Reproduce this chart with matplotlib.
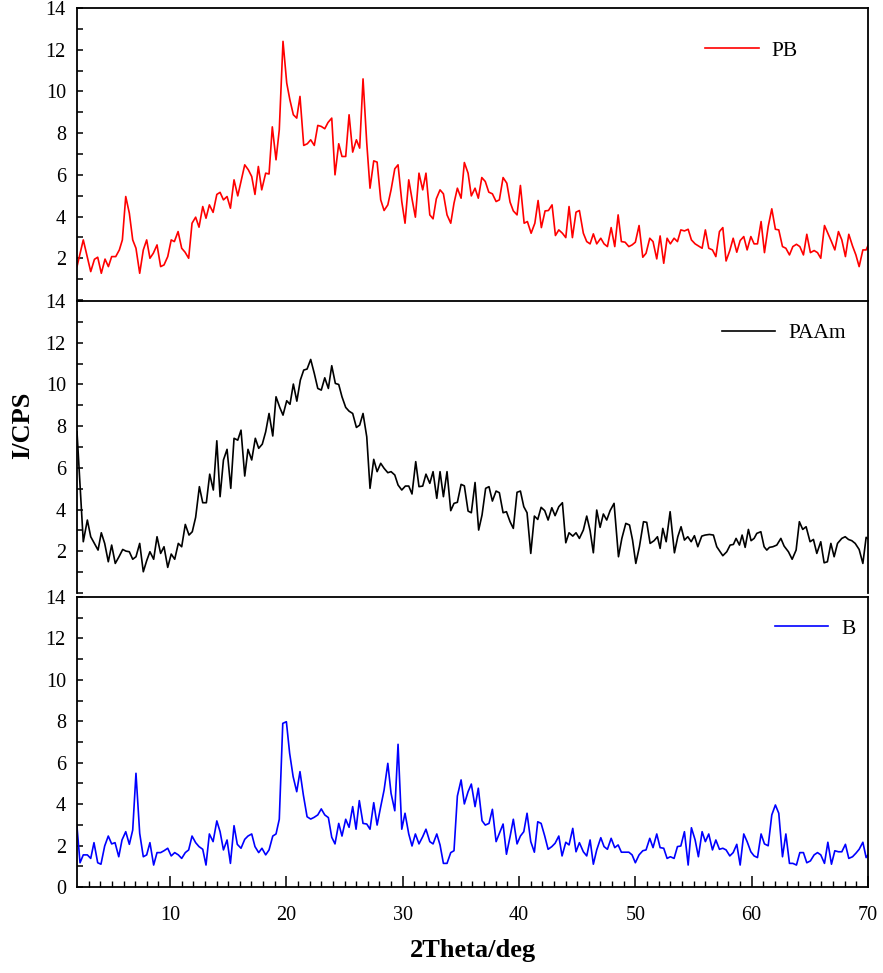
import numpy as np
import matplotlib
matplotlib.use("Agg")
import matplotlib.pyplot as plt
from matplotlib.ticker import MultipleLocator, FixedLocator

plt.rcParams['font.family'] = ['Liberation Serif', 'DejaVu Serif']

# PB (red)
pb_x = [2.0, 2.54, 3.18, 3.5, 3.78, 4.09, 4.41, 4.7, 4.98, 5.33, 5.64, 5.9, 6.19, 6.5, 6.79,
        7.07, 7.39, 7.7, 7.99, 8.27, 8.56, 8.88, 9.19, 9.48, 9.8, 10.1, 10.37, 10.69, 11.0,
        11.29, 11.6, 11.89, 12.2, 12.49, 12.81, 13.09, 13.38, 13.7, 14.02, 14.3, 14.59, 14.9,
        15.19, 15.5, 15.82, 16.13, 16.42, 16.73, 17.02, 17.3, 17.59, 17.88, 18.22, 18.51,
        18.79, 19.11, 19.39, 19.71, 20.03, 20.3, 20.6, 20.89, 21.17, 21.49, 21.8, 22.09, 22.4,
        22.7, 23.0, 23.3, 23.58, 23.9, 24.18, 24.5, 24.78, 25.1, 25.39, 25.7, 26.02, 26.3,
        26.59, 26.91, 27.19, 27.51, 27.8, 28.11, 28.4, 28.72, 29.0, 29.32, 29.6, 29.92, 30.2,
        30.52, 30.8, 31.09, 31.4, 31.72, 32.0, 32.33, 32.61, 32.89, 33.21, 33.5, 33.81, 34.13,
        34.41, 34.7, 35.02, 35.3, 35.62, 35.9, 36.22, 36.5, 36.8, 37.1, 37.4, 37.71, 38.03,
        38.31, 38.63, 38.95, 39.23, 39.51, 39.83, 40.12, 40.44, 40.72, 41.04, 41.36, 41.64,
        41.92, 42.24, 42.53, 42.84, 43.13, 43.42, 43.73, 44.02, 44.3, 44.59, 44.9, 45.19,
        45.53, 45.82, 46.11, 46.39, 46.68, 47.03, 47.31, 47.6, 47.92, 48.23, 48.52, 48.8,
        49.12, 49.44, 49.72, 50.0, 50.32, 50.64, 50.92, 51.24, 51.52, 51.84, 52.13, 52.44,
        52.73, 53.01, 53.33, 53.62, 53.91, 54.22, 54.54, 54.82, 55.14, 55.42, 55.74, 56.02,
        56.31, 56.63, 56.92, 57.23, 57.52, 57.8, 58.12, 58.41, 58.72, 59.01, 59.32, 59.61,
        59.93, 60.21, 60.5, 60.81, 61.1, 61.42, 61.73, 62.04, 62.33, 62.65, 62.94, 63.25,
        63.54, 63.85, 64.14, 64.45, 64.74, 65.05, 65.37, 65.66, 65.94, 66.26, 66.55, 66.86,
        67.15, 67.46, 67.75, 68.06, 68.35, 68.67, 68.96, 69.24, 69.56, 69.84, 70.0]
pb_i = [1.6, 2.88, 1.36, 1.95, 2.05, 1.28, 1.96, 1.6, 2.08, 2.08, 2.4, 2.88, 4.96, 4.16, 2.88,
        2.48, 1.28, 2.4, 2.88, 2.0, 2.24, 2.64, 1.6, 1.68, 2.08, 2.88, 2.8, 3.28, 2.48,
        2.29, 2.0, 3.68, 3.97, 3.49, 4.48, 3.92, 4.56, 4.2, 5.06, 5.16, 4.8, 4.96,
        4.4, 5.76, 4.99, 5.76, 6.48, 6.24, 5.92, 5.06, 6.4, 5.28, 6.08, 6.04,
        8.3, 6.72, 8.16, 12.4, 10.4, 9.6, 8.88, 8.72, 9.76, 7.41, 7.49, 7.68, 7.41,
        8.37, 8.32, 8.21, 8.51, 8.72, 6.0, 7.49, 6.88, 6.88, 8.88, 7.09, 7.68, 7.28,
        10.6, 7.52, 5.36, 6.67, 6.61, 4.8, 4.29, 4.56, 5.28, 6.29, 6.48, 4.72, 3.68,
        5.76, 4.85, 3.97, 6.08, 5.28, 6.08, 4.08, 3.89, 4.85, 5.28, 5.09, 4.08, 3.68,
        4.64, 5.36, 4.88, 6.59, 6.08, 4.99, 5.36, 4.88, 5.87, 5.68, 5.17, 5.09, 4.72,
        4.8, 5.87, 5.6, 4.69, 4.27, 4.08, 5.49, 3.68, 3.76, 3.2, 3.68, 4.77,
        3.47, 4.27, 4.29, 4.56, 3.09, 3.36, 3.2, 2.99, 4.48, 2.99, 4.21, 4.29,
        3.2, 2.8, 2.69, 3.17, 2.69, 2.96, 2.69, 2.56, 3.47, 2.56, 4.08, 2.8,
        2.77, 2.56, 2.64, 2.77, 3.57, 2.05, 2.24, 2.96, 2.8, 1.97, 3.07, 1.76,
        2.96, 2.69, 2.96, 2.8, 3.36, 3.31, 3.39, 2.88, 2.69, 2.59, 2.48, 3.36,
        2.48, 2.4, 2.08, 3.28, 3.47, 1.87, 2.37, 2.96, 2.29, 2.85, 3.04, 2.4,
        3.04, 2.69, 2.69, 3.76, 2.27, 3.52, 4.37, 3.39, 3.36, 2.56, 2.48, 2.16,
        2.56, 2.67, 2.56, 2.16, 3.15, 2.27, 2.37, 2.27, 2.0, 3.57, 3.2, 2.8,
        2.4, 3.28, 2.88, 2.08, 3.15, 2.59, 2.16, 1.6, 2.4, 2.4, 2.61]

# PAAm (black)
paam_x = [2.0, 2.54, 2.89, 3.18, 3.5, 3.81, 4.09, 4.38, 4.69, 4.98, 5.29, 5.61, 5.93, 6.21,
          6.5, 6.79, 7.07, 7.39, 7.7, 7.99, 8.27, 8.59, 8.88, 9.19, 9.48, 9.8, 10.1, 10.4,
          10.71, 11.0, 11.31, 11.63, 11.91, 12.2, 12.52, 12.81, 13.12, 13.41, 13.72, 14.02,
          14.3, 14.59, 14.9, 15.22, 15.5, 15.82, 16.1, 16.42, 16.7, 17.02, 17.33, 17.62,
          17.93, 18.22, 18.51, 18.83, 19.11, 19.43, 19.71, 20.03, 20.31, 20.6, 20.9, 21.2,
          21.49, 21.78, 22.09, 22.4, 22.7, 23.0, 23.3, 23.61, 23.9, 24.21, 24.5, 24.78, 25.1,
          25.39, 25.7, 26.02, 26.3, 26.59, 26.91, 27.19, 27.51, 27.8, 28.11, 28.4, 28.72, 29.0,
          29.32, 29.6, 29.92, 30.23, 30.52, 30.8, 31.12, 31.4, 31.72, 32.0, 32.33, 32.61,
          32.93, 33.21, 33.5, 33.81, 34.13, 34.41, 34.7, 35.02, 35.3, 35.62, 35.9, 36.22,
          36.53, 36.82, 37.13, 37.42, 37.71, 38.03, 38.31, 38.63, 38.92, 39.23, 39.51, 39.83,
          40.12, 40.41, 40.69, 41.01, 41.32, 41.61, 41.9, 42.21, 42.5, 42.82, 43.1, 43.42,
          43.73, 44.02, 44.3, 44.62, 44.9, 45.19, 45.53, 45.82, 46.11, 46.39, 46.68, 46.97,
          47.25, 47.54, 47.83, 48.17, 48.55, 48.84, 49.18, 49.5, 49.76, 50.04, 50.35, 50.7,
          50.98, 51.27, 51.61, 51.9, 52.13, 52.36, 52.65, 52.99, 53.36, 53.65, 53.93, 54.22,
          54.51, 54.8, 55.08, 55.37, 55.71, 56.0, 56.37, 56.71, 57.0, 57.52, 57.86, 58.15,
          58.43, 58.66, 58.95, 59.18, 59.44, 59.72, 59.95, 60.21, 60.44, 60.79, 61.07, 61.3,
          61.53, 61.82, 62.16, 62.51, 62.79, 63.16, 63.48, 63.82, 64.1, 64.39, 64.68, 65.02,
          65.31, 65.6, 65.94, 66.23, 66.51, 66.81, 67.09, 67.38, 67.75, 68.04, 68.32, 68.61,
          68.9, 69.24, 69.56, 69.84, 70.0]
paam_i = [7.73, 2.46, 3.5, 2.7, 2.38, 2.06, 2.89, 2.38, 1.5, 2.3, 1.42, 1.74, 2.09, 2.01,
          1.98, 1.62, 1.74, 2.38, 1.02, 1.55, 1.98, 1.62, 2.7, 1.9, 2.22, 1.23, 1.87, 1.62,
          2.38, 2.22, 3.29, 2.78, 2.94, 3.63, 5.1, 4.33, 4.33, 5.7, 4.94, 7.3,
          4.62, 6.38, 6.89, 5.02, 7.42, 7.33, 7.81, 5.61, 6.89, 6.38, 7.42, 6.94,
          7.14, 7.73, 8.61, 7.53, 9.41, 8.9, 8.53, 9.22, 9.05, 10.02, 9.2, 10.21,
          10.69, 10.74, 11.2, 10.53, 9.81, 9.73, 10.32, 9.81, 10.9, 10.05, 10.0, 9.41, 8.9,
          8.72, 8.61, 7.94, 8.05, 8.61, 7.49, 5.02, 6.41, 5.82, 6.22, 5.98, 5.77, 5.82,
          5.66, 5.18, 4.94, 5.13, 5.13, 4.75, 6.3, 5.1, 5.13, 5.7, 5.26, 5.82,
          4.54, 5.82, 4.62, 5.82, 3.95, 4.3, 4.35, 5.21, 5.14, 3.93, 3.85, 5.3,
          3.02, 3.74, 5.02, 5.1, 4.41, 4.89, 4.81, 3.85, 3.9, 3.42, 3.1, 4.83,
          4.89, 4.14, 3.85, 1.9, 3.69, 3.53, 4.11, 3.95, 3.5, 4.09, 3.71, 4.14,
          4.33, 2.41, 2.89, 2.73, 2.89, 2.62, 3.02, 3.69, 2.99, 1.93, 3.98, 3.15,
          3.79, 3.5, 3.95, 4.3, 1.74, 2.62, 3.34, 3.26, 2.54, 1.42, 2.22, 3.42,
          3.39, 2.38, 2.51, 2.7, 2.14, 3.1, 2.46, 3.9, 1.93, 2.7, 3.18, 2.54,
          2.7, 2.46, 2.75, 2.22, 2.73, 2.78, 2.81, 2.78, 2.22, 1.79, 1.98, 2.3,
          2.33, 2.62, 2.3, 2.78, 2.19, 3.05, 2.51, 2.62, 2.86, 2.94, 2.22, 2.06,
          2.19, 2.22, 2.3, 2.62, 2.25, 1.98, 1.62, 2.06, 3.42, 3.05, 3.18, 2.46,
          2.57, 1.9, 2.46, 1.45, 1.5, 2.38, 1.74, 2.38, 2.62, 2.7, 2.57, 2.51,
          2.38, 2.09, 1.42, 2.67, 2.6]

# B (blue)
b_x = [2.0, 2.26, 2.54, 2.89, 3.18, 3.46, 3.78, 4.06, 4.38, 4.69, 4.98, 5.27, 5.59, 5.87,
       6.19, 6.5, 6.79, 7.07, 7.39, 7.7, 7.99, 8.27, 8.59, 8.88, 9.19, 9.48, 9.8, 10.1,
       10.4, 10.71, 11.0, 11.31, 11.6, 11.89, 12.2, 12.49, 12.81, 13.09, 13.38, 13.7, 14.02,
       14.3, 14.59, 14.9, 15.19, 15.5, 15.78, 16.1, 16.42, 16.7, 17.02, 17.3, 17.62, 17.9,
       18.22, 18.51, 18.83, 19.11, 19.39, 19.69, 20.0, 20.28, 20.58, 20.89, 21.17, 21.46,
       21.78, 22.09, 22.38, 22.7, 23.0, 23.3, 23.61, 23.9, 24.18, 24.5, 24.78, 25.1, 25.39,
       25.7, 25.99, 26.27, 26.59, 26.91, 27.19, 27.51, 27.8, 28.11, 28.4, 28.72, 29.0, 29.32,
       29.6, 29.92, 30.2, 30.52, 30.8, 31.09, 31.4, 31.72, 32.0, 32.33, 32.61, 32.93, 33.21,
       33.5, 33.81, 34.13, 34.41, 34.7, 35.02, 35.3, 35.62, 35.9, 36.22, 36.5, 36.82, 37.1,
       37.42, 37.71, 38.03, 38.31, 38.63, 38.92, 39.23, 39.51, 39.83, 40.12, 40.41, 40.69,
       41.01, 41.32, 41.61, 41.9, 42.21, 42.5, 42.82, 43.1, 43.42, 43.7, 44.02, 44.3, 44.62,
       44.9, 45.19, 45.53, 45.82, 46.11, 46.39, 46.68, 47.03, 47.31, 47.6, 47.92, 48.23,
       48.52, 48.8, 49.12, 49.44, 49.72, 50.0, 50.32, 50.64, 50.92, 51.24, 51.52, 51.84,
       52.13, 52.44, 52.73, 53.01, 53.33, 53.62, 53.91, 54.22, 54.54, 54.82, 55.14, 55.42,
       55.74, 56.02, 56.31, 56.63, 56.92, 57.23, 57.52, 57.8, 58.12, 58.41, 58.72, 59.01,
       59.32, 59.61, 59.93, 60.21, 60.5, 60.81, 61.1, 61.42, 61.73, 62.04, 62.33, 62.65,
       62.94, 63.25, 63.54, 63.85, 64.14, 64.45, 64.74, 65.05, 65.37, 65.66, 65.94, 66.26,
       66.55, 66.86, 67.15, 67.46, 67.75, 68.06, 68.35, 68.67, 68.96, 69.24, 69.56, 69.84,
       70.0]
b_i = [2.91, 1.17, 1.55, 1.55, 1.38, 2.14, 1.17, 1.1, 1.98, 2.46, 2.08, 2.14, 1.46, 2.27,
       2.67, 2.06, 2.75, 5.49, 2.59, 1.46, 1.55, 2.14, 1.06, 1.66, 1.66, 1.75, 1.87, 1.5,
       1.66, 1.55, 1.38, 1.66, 1.79, 2.46, 2.14, 1.95, 1.82, 1.06, 2.56, 2.19, 3.19,
       2.67, 1.79, 2.27, 1.14, 2.96, 2.06, 1.87, 2.3, 2.46, 2.56, 1.95, 1.66, 1.87,
       1.55, 1.79, 2.46, 2.56, 3.27, 7.9, 7.98, 6.46, 5.33, 4.6, 5.57, 4.44,
       3.39, 3.28, 3.36, 3.48, 3.77, 3.48, 3.35, 2.4, 2.08, 3.07, 2.46, 3.27, 2.88,
       3.88, 2.79, 4.17, 3.07, 3.04, 2.79, 4.07, 2.99, 3.88, 4.68, 5.97, 4.52, 3.68,
       6.89, 2.79, 3.56, 2.56, 1.98, 2.56, 2.08, 2.43, 2.79, 2.19, 2.08, 2.56, 2.03,
       1.14, 1.14, 1.66, 1.75, 4.39, 5.17, 4.01, 4.6, 4.97, 3.88, 4.77, 3.2, 2.99,
       3.07, 3.75, 2.19, 2.59, 3.04, 1.58, 2.43, 3.27, 2.08, 2.46, 2.67, 3.56,
       2.19, 1.68, 3.15, 3.07, 2.46, 1.82, 1.95, 2.11, 2.46, 1.5, 2.16, 2.03, 2.83,
       1.7, 2.14, 1.7, 1.5, 2.27, 1.1, 1.79, 2.38, 1.95, 1.82, 2.35, 1.9,
       2.03, 1.68, 1.68, 1.68, 1.55, 1.17, 1.55, 1.75, 1.79, 2.35, 1.9, 2.56,
       1.9, 1.87, 1.38, 1.46, 1.38, 1.95, 1.98, 2.67, 1.06, 2.86, 2.27, 1.46,
       2.67, 2.19, 2.56, 1.79, 2.27, 1.82, 1.87, 1.79, 1.5, 1.66, 2.06, 1.06,
       2.56, 2.19, 1.7, 1.5, 1.42, 2.56, 2.08, 1.99, 3.48, 3.96, 3.56, 1.46,
       2.56, 1.14, 1.14, 1.06, 1.66, 1.66, 1.17, 1.26, 1.55, 1.66, 1.55, 1.14,
       2.16, 1.1, 1.75, 1.7, 1.7, 2.06, 1.38, 1.46, 1.63, 1.82, 2.16, 1.42,
       1.55]

series = [(pb_x, pb_i, 'red', 'PB'),
          (paam_x, paam_i, 'black', 'PAAm'),
          (b_x, b_i, 'blue', 'B')]

# axes rectangles in figure fractions (left, bottom, width, height)
rects = [(0.0872, 0.6917, 0.8958, 0.3001),
         (0.0872, 0.3905, 0.8958, 0.3001),
         (0.0872, 0.0884, 0.8958, 0.2980)]
legend_anchor = [(0.794, 0.853), (0.815, 0.890), (0.882, 0.890)]

fig = plt.figure(figsize=(8.83, 9.73), dpi=100)

for idx, ((x, y, color, label), rect, anchor) in enumerate(zip(series, rects, legend_anchor)):
    ax = fig.add_axes(rect)
    ax.plot(x, y, '-', color=color, lw=1.2, label=label)
    ax.set_xlim(2, 70)
    ax.set_ylim(0, 14)
    ax.yaxis.set_major_locator(MultipleLocator(2))
    ax.yaxis.set_minor_locator(MultipleLocator(1))
    ax.xaxis.set_major_locator(FixedLocator([10, 20, 30, 40, 50, 60, 70]))
    ax.xaxis.set_minor_locator(FixedLocator(np.arange(3, 70)))
    ax.tick_params(axis='y', which='both', direction='in', length=4.5, width=1.1,
                   labelsize=14.5, pad=8, right=False)
    ax.tick_params(axis='x', which='major', direction='in', length=8, width=1.1,
                   labelsize=14.5, pad=14, top=False)
    ax.tick_params(axis='x', which='minor', direction='in', length=4, width=1.0, top=False)
    for sp in ax.spines.values():
        sp.set_linewidth(1.3)
    if idx < 2:
        ax.spines['bottom'].set_visible(False)
        ax.tick_params(axis='x', which='both', bottom=False, labelbottom=False)
        ax.set_yticks([0, 2, 4, 6, 8, 10, 12, 14])
        ax.set_yticklabels(['', '2', '4', '6', '8', '10', '12', '14'])
    else:
        ax.set_xlabel('2Theta/deg', fontsize=19, fontweight='bold', labelpad=10)
    ax.legend(loc='center left', bbox_to_anchor=anchor, frameon=False, fontsize=15.5,
              handlelength=2.5, handletextpad=0.6, borderpad=0, borderaxespad=0)

fig.text(0.026, 0.563, 'I/CPS', rotation=90, fontsize=19, fontweight='bold',
         ha='center', va='center')

fig.savefig('out.png', dpi=100)
